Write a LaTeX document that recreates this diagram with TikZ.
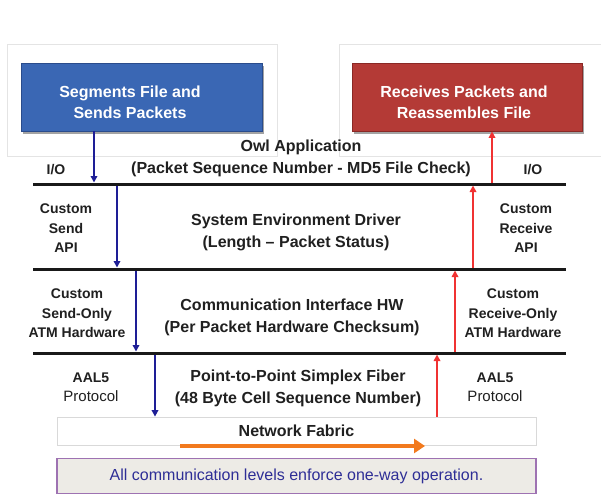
\documentclass[tikz,border=0pt]{standalone}
\usepackage{fontspec}
\setmainfont{Liberation Sans}
\usetikzlibrary{arrows.meta,shadows}
\definecolor{boxblue}{HTML}{3A67B4}
\definecolor{boxblueD}{HTML}{2A4C8C}
\definecolor{boxred}{HTML}{B43A36}
\definecolor{boxredD}{HTML}{8A2825}
\definecolor{faintgrey}{HTML}{E4E4E4}
\definecolor{txtgrey}{HTML}{202020}
\definecolor{arrowblue}{HTML}{1E1E96}
\definecolor{arrowred}{HTML}{F03232}
\definecolor{arroworange}{HTML}{F27A1E}
\definecolor{notefill}{HTML}{EDEBE6}
\definecolor{notedraw}{HTML}{9E72B2}
\definecolor{notetext}{HTML}{2E2E96}
\begin{document}
\begin{tikzpicture}[x=1pt,y=-1pt,
  faint/.style={draw=faintgrey,line width=0.8pt},
  appbox/.style={rectangle,line width=0.8pt,minimum height=68pt,inner sep=0pt,
    drop shadow={shadow xshift=2pt,shadow yshift=-2.5pt,opacity=0.45,fill=black!80}},
  boxtext/.style={text=white,font=\fontsize{16}{21}\selectfont\bfseries,align=center,inner sep=0pt},
  layertext/.style={text=txtgrey,font=\fontsize{16}{22}\selectfont\bfseries,align=center,inner sep=0pt},
  sidetext/.style={text=txtgrey,font=\fontsize{14}{19.5}\selectfont\bfseries,align=center,inner sep=0pt},
  layerline/.style={line width=3pt,draw=black!90},
  sendarrow/.style={draw=arrowblue,line width=1.8pt,-{Triangle[length=6.5pt,width=6.5pt]}},
  recvarrow/.style={draw=arrowred,line width=1.8pt,-{Triangle[length=6.5pt,width=6.5pt]}}
]
\useasboundingbox[fill=white] (0,0) rectangle (601,495);

% faint frames around the application boxes
\draw[faint] (7,44) rectangle (277,156);
\draw[faint] (339,44) rectangle (604,156);

% application boxes
\node[appbox,fill=boxblue,draw=boxblueD,minimum width=241pt] (send) at (141.5,97) {};
\node[boxtext] (sendtxt) at (130,102.5) {Segments File and\\Sends Packets};
\node[appbox,fill=boxred,draw=boxredD,minimum width=230pt] (recv) at (467,97) {};
\node[boxtext] (recvtxt) at (464,102.5) {Receives Packets and\\Reassembles File};

% layer lines
\coordinate (l1a) at (33,184); \coordinate (l1b) at (566,184);
\coordinate (l2a) at (33,269); \coordinate (l2b) at (566,269);
\coordinate (l3a) at (33,353); \coordinate (l3b) at (566,353);
\draw[layerline] (l1a) -- (l1b);
\draw[layerline] (l2a) -- (l2b);
\draw[layerline] (l3a) -- (l3b);

% layer texts
\node[layertext] (owl) at (301,158.5) {Owl Application\\(Packet Sequence Number - MD5 File Check)};
\node[sidetext] (iol) at (56,170) {I/O};
\node[sidetext] (ior) at (533,170) {I/O};

\node[layertext] (sed) at (296,232.5) {System Environment Driver\\(Length -- Packet Status)};
\node[sidetext] (sapi) at (66,228.5) {Custom\\Send\\API};
\node[sidetext] (rapi) at (526,228.5) {Custom\\Receive\\API};

\node[layertext] (cihw) at (292,317) {Communication Interface HW\\(Per Packet Hardware Checksum)};
\node[sidetext] (shw) at (77,313.5) {Custom\\Send-Only\\ATM Hardware};
\node[sidetext] (rhw) at (513,313.5) {Custom\\Receive-Only\\ATM Hardware};

\node[layertext] (fiber) at (298,388.5) {Point-to-Point Simplex Fiber\\(48 Byte Cell Sequence Number)};
\node[sidetext] (aall) at (91,387) {AAL5\\{\fontsize{15}{19.5}\selectfont\mdseries Protocol}};
\node[sidetext] (aalr) at (495,387) {AAL5\\{\fontsize{15}{19.5}\selectfont\mdseries Protocol}};

% network fabric
\node[draw=black!15,fill=white,line width=0.8pt,minimum width=479pt,minimum height=28pt,
      inner sep=0pt,font=\fontsize{16}{20}\selectfont\bfseries,text=txtgrey] (fabric) at (296.5,431) {Network Fabric};
\coordinate (ora) at (180,446);
\coordinate (orb) at (425,446);
\draw[draw=arroworange,line width=4.5pt,-{Triangle[length=11pt,width=14pt]}] (ora) -- (orb);

% note box
\node[draw=notedraw,fill=notefill,line width=1.2pt,minimum width=479pt,minimum height=35pt,
      inner sep=0pt,font=\fontsize{16}{20}\selectfont,text=notetext] (note) at (296.5,476)
      {All communication levels enforce one-way operation.};

% send path (down)
\coordinate (b1) at (94,182.5);
\coordinate (b2s) at (117,185.5); \coordinate (b2) at (117,267.5);
\coordinate (b3s) at (136,270.5); \coordinate (b3) at (136,351.5);
\coordinate (b4s) at (155,354.5);
\draw[sendarrow] (send.south -| b1) -- (b1);
\draw[sendarrow] (b2s) -- (b2);
\draw[sendarrow] (b3s) -- (b3);
\draw[sendarrow] (b4s) -- (b4s |- fabric.north);

% receive path (up)
\coordinate (r1s) at (492,182.5);
\coordinate (r2s) at (473,267.5); \coordinate (r2) at (473,185.5);
\coordinate (r3s) at (455,351.5); \coordinate (r3) at (455,270.5);
\coordinate (r4) at (437,354.5);
\draw[recvarrow] (r1s) -- (r1s |- recv.south);
\draw[recvarrow] (r2s) -- (r2);
\draw[recvarrow] (r3s) -- (r3);
\draw[recvarrow] (r4 |- fabric.north) -- (r4);
\end{tikzpicture}
\end{document}
